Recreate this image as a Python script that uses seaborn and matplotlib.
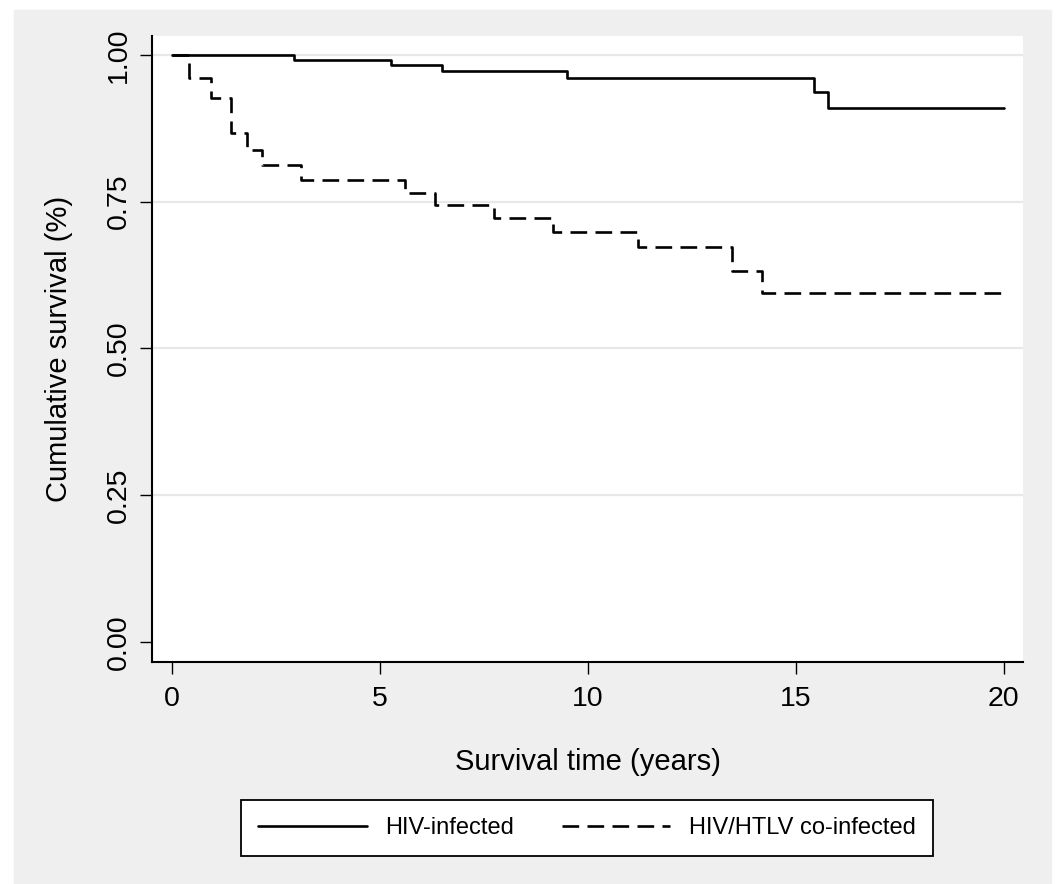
import pandas as pd
import matplotlib.pyplot as plt
import seaborn as sns
from matplotlib.patches import Rectangle
from matplotlib.lines import Line2D

# Kaplan-Meier step values
hiv_time = [0, 2.93, 5.26, 6.49, 9.5, 15.43, 15.77, 20]
hiv_surv = [1.0, 0.991, 0.983, 0.972, 0.960, 0.936, 0.910, 0.910]

co_time = [0, 0.41, 0.94, 1.42, 1.8, 2.16, 3.1, 5.6, 6.32, 7.74, 9.16, 11.2, 13.46, 14.18, 20]
co_surv = [1.0, 0.96, 0.927, 0.867, 0.838, 0.813, 0.787, 0.765, 0.744, 0.722, 0.698, 0.672, 0.632, 0.595, 0.595]

groups = ["HIV-infected", "HIV/HTLV co-infected"]
x_ticks = [0, 5, 10, 15, 20]
y_ticks = [0.0, 0.25, 0.5, 0.75, 1.0]
y_ticklabels = ["0.00", "0.25", "0.50", "0.75", "1.00"]

df = pd.concat([
    pd.DataFrame({"time": hiv_time, "surv": hiv_surv, "group": groups[0]}),
    pd.DataFrame({"time": co_time, "surv": co_surv, "group": groups[1]}),
])

sns.set_theme(style="white")
plt.rcParams["font.family"] = ["Liberation Sans", "DejaVu Sans"]
plt.rcParams["text.color"] = "black"
plt.rcParams["axes.labelcolor"] = "black"
plt.rcParams["xtick.color"] = "black"
plt.rcParams["ytick.color"] = "black"

W, H = 1056, 884
fig = plt.figure(figsize=(W / 100, H / 100), dpi=100)
fig.patch.set_facecolor("white")
fig.patches.append(Rectangle((14 / W, 0), (1051 - 14) / W, (H - 10) / H,
                             transform=fig.transFigure, color="#efefef", zorder=-10))

ax = fig.add_axes([152 / W, 1 - 662 / H, (1023 - 152) / W, (662 - 36) / H])
ax.set_facecolor("white")

for y in [0.25, 0.5, 0.75, 1.0]:
    ax.axhline(y, color="#e8e8e8", lw=1.6, zorder=0)

lw = 1.9
dash = (12 / lw, 6 / lw)
sns.lineplot(data=df, x="time", y="surv", hue="group", style="group",
             palette={groups[0]: "black", groups[1]: "black"},
             dashes={groups[0]: "", groups[1]: dash},
             estimator=None, sort=False, drawstyle="steps-post",
             linewidth=lw, legend=False, ax=ax)

ax.set_xlim(-0.48, 20.46)
ax.set_ylim(-0.034, 1.032)
ax.set_xticks(x_ticks)
ax.set_yticks(y_ticks)
ax.set_yticklabels(y_ticklabels, rotation=90, va="center")
ax.tick_params(axis="both", which="major", labelsize=20.5, length=8.5, width=1,
               color="black", direction="out", bottom=True, left=True)
ax.tick_params(axis="x", pad=9)
ax.tick_params(axis="y", pad=6)

for side in ["top", "right"]:
    ax.spines[side].set_visible(False)
for side in ["left", "bottom"]:
    ax.spines[side].set_color("black")
    ax.spines[side].set_linewidth(1.5)

ax.set_xlabel("Survival time (years)", fontsize=21, labelpad=26)
ax.set_ylabel("Cumulative survival (%)", fontsize=21, labelpad=24)

# legend
handles = [Line2D([], [], color="black", lw=lw),
           Line2D([], [], color="black", lw=lw, linestyle=(0, dash))]
leg = fig.legend(handles, groups, loc="center", bbox_to_anchor=(587 / W, 1 - 828 / H),
                 ncol=2, fontsize=17, frameon=True, fancybox=False, handlelength=4.6,
                 handletextpad=0.8, columnspacing=2.0, borderpad=0.7)
leg.get_frame().set_edgecolor("black")
leg.get_frame().set_linewidth(1.3)
leg.get_frame().set_facecolor("white")
leg.get_frame().set_alpha(1)

fig.savefig("out.png", dpi=100)
